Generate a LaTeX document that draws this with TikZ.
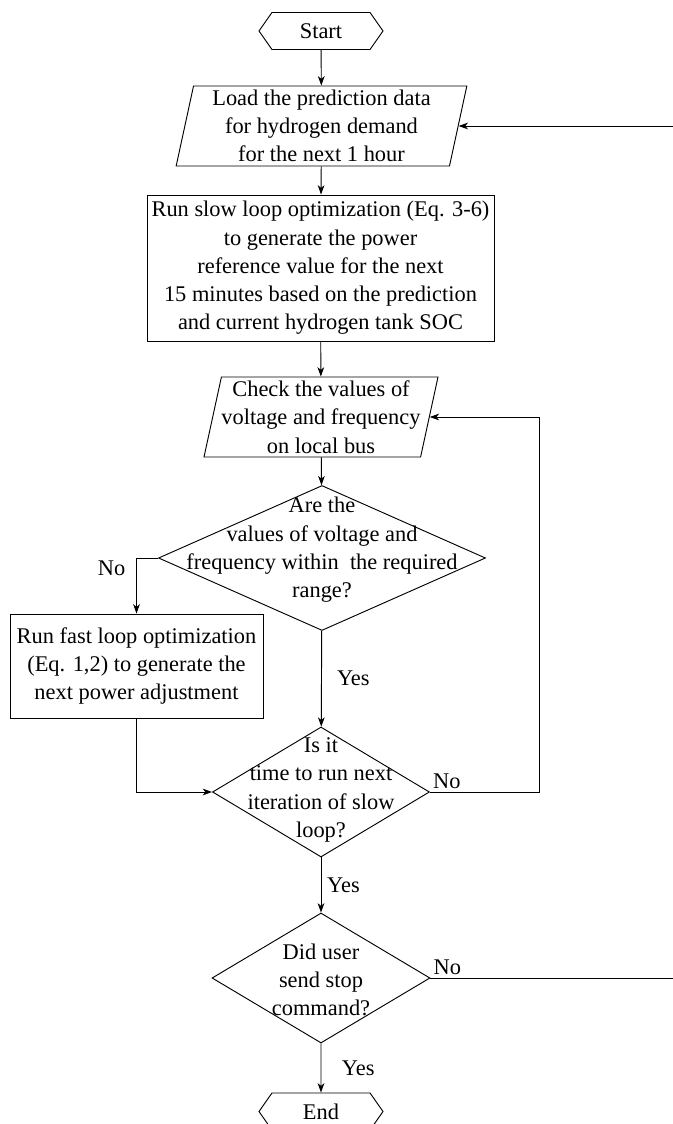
\documentclass[tikz,border=0pt]{standalone}
\usepackage{fontspec}
\setmainfont{Liberation Serif}
\usetikzlibrary{shapes.geometric,shapes.symbols,arrows.meta}

\tikzset{
  txt/.style={font=\fontsize{16.8}{21.2}\selectfont, align=center},
  terminal/.style={signal, signal to=west and east, signal pointer angle=110, draw, txt,
    minimum width=93pt, minimum height=27.75pt, inner sep=0pt},
  io/.style={trapezium, trapezium left angle=76.5, trapezium right angle=103.5,
    trapezium stretches body, draw, txt, minimum height=60pt, inner xsep=-3pt, inner ysep=0pt},
  process/.style={rectangle, draw, txt, inner sep=0pt},
  decision/.style={diamond, draw, inner sep=0pt},
  arr/.style={-{Stealth[length=7pt,width=5pt,inset=2pt]}},
}

\begin{document}
\begin{tikzpicture}[x=0.75pt,y=-0.75pt,line width=0.7pt]
\useasboundingbox (0,0) rectangle (673,1124);
\node[terminal] (start) at (321,31) {Start};
\node[io, minimum width=218pt] (load) at (321.5,126) {Load the prediction data\\for hydrogen demand\\for the next 1 hour};
\node[process, minimum width=260.25pt, minimum height=109.5pt] (slow) at (320.5,268) {Run slow loop optimization (Eq. 3-6)\\to generate the power\\reference value for the next\\15 minutes based on the prediction\\and current hydrogen tank SOC};
\node[io, minimum width=175.5pt] (check) at (321,417) {Check the values of\\voltage and frequency\\on local bus};
\node[decision, minimum width=245.25pt, minimum height=108.75pt] (inrange) at (322,558) {};
\node[txt] at (322,550) {Are the\\values of voltage and\\frequency within\ \ the required\\range?};
\node[process, minimum width=189.75pt, minimum height=78pt] (fast) at (136.5,666) {Run fast loop optimization\\(Eq. 1,2) to generate the\\next power adjustment};
\node[decision, minimum width=162.75pt, minimum height=97.5pt] (slowtime) at (321,792) {};
\node[txt] at (321,790) {Is it\\time to run next\\iteration of slow\\loop?};
\node[decision, minimum width=163.5pt, minimum height=97.5pt] (stop) at (321,978) {};
\node[txt] at (321,980) {Did user\\send stop\\command?};
\node[terminal] (end) at (321,1111.5) {End};
\coordinate (loopx) at (539,0);
\coordinate (farx) at (690,0);

\draw[arr] (start) -- (load);
\draw[arr] (load) -- (slow);
\draw[arr] (slow) -- (check);
\draw[arr] (check) -- (inrange);
\draw[arr] (inrange.west) -| node[pos=0.5, txt, anchor=north east, inner sep=2pt, xshift=-6pt] {No} (fast.north);
\draw[arr] (inrange) -- node[txt, right, xshift=8pt] {Yes} (slowtime);
\draw[arr] (fast.south) |- (slowtime.west);
\draw[arr] (slowtime.east) node[txt, above right, inner sep=2pt] {No} -- (slowtime.east -| loopx) |- (check.east);
\draw[arr] (slowtime) -- node[txt, right, xshift=1pt] {Yes} (stop);
\draw[arr] (stop.east) node[txt, above right, inner sep=2pt] {No} -- (stop.east -| farx) |- (load.east);
\draw[arr] (stop) -- node[txt, right, xshift=12pt] {Yes} (end);
\end{tikzpicture}
\end{document}
